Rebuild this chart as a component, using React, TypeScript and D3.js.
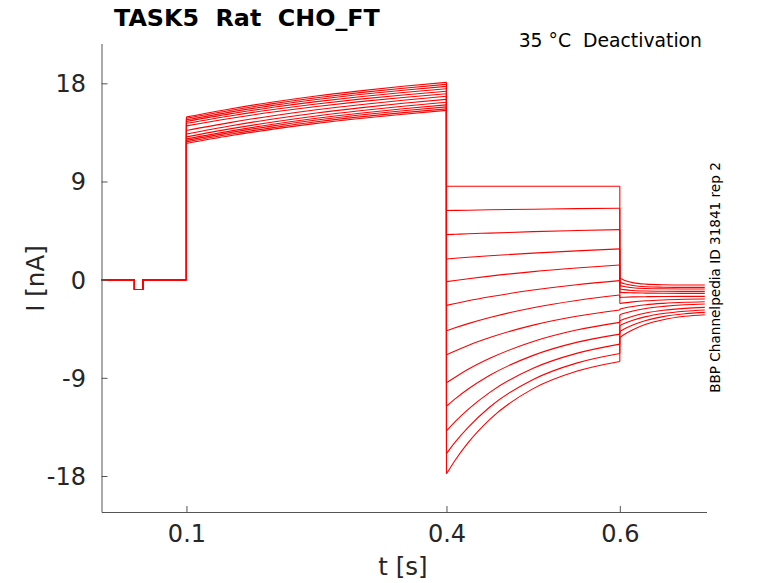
import { useRef, useEffect } from 'react';
import * as d3 from 'd3';

// pre-pulse baseline (same for every sweep)
const baseTimes = [0.002, 0.04, 0.04, 0.05, 0.05, 0.1];
const baseValues = [0, 0, -0.9, -0.9, 0, 0];

// activation step 0.1 - 0.4 s
const actTimes = [0.1, 0.15, 0.2, 0.25, 0.3, 0.35, 0.4];
const actValues = [
  [14.92, 15.65, 16.29, 16.84, 17.31, 17.73, 18.09],
  [14.79, 15.51, 16.14, 16.68, 17.15, 17.55, 17.91],
  [14.65, 15.36, 15.98, 16.51, 16.97, 17.37, 17.72],
  [14.51, 15.2, 15.8, 16.32, 16.77, 17.16, 17.5],
  [14.33, 15.01, 15.6, 16.11, 16.55, 16.93, 17.27],
  [14.1, 14.78, 15.37, 15.88, 16.32, 16.7, 17.04],
  [13.68, 14.4, 15.03, 15.58, 16.04, 16.45, 16.81],
  [13.36, 14.09, 14.73, 15.28, 15.75, 16.17, 16.53],
  [13.09, 13.82, 14.46, 15.01, 15.48, 15.9, 16.26],
  [12.9, 13.62, 14.25, 14.8, 15.26, 15.67, 16.03],
  [12.77, 13.48, 14.1, 14.63, 15.09, 15.49, 15.84],
  [12.63, 13.33, 13.94, 14.47, 14.92, 15.31, 15.66],
  [12.49, 13.19, 13.8, 14.33, 14.78, 15.17, 15.52],
];

// deactivation step 0.4 - 0.6 s
const deactTimes = [0.4, 0.41, 0.425, 0.45, 0.5, 0.55, 0.6];
const deactValues = [
  [8.57, 8.57, 8.57, 8.57, 8.57, 8.57, 8.57],
  [6.34, 6.35, 6.37, 6.41, 6.46, 6.51, 6.55],
  [4.13, 4.16, 4.21, 4.27, 4.4, 4.5, 4.59],
  [1.9, 1.96, 2.05, 2.19, 2.43, 2.64, 2.82],
  [-0.18, -0.07, 0.08, 0.32, 0.74, 1.07, 1.35],
  [-2.36, -2.19, -1.94, -1.57, -0.95, -0.46, -0.09],
  [-4.68, -4.41, -4.03, -3.47, -2.57, -1.91, -1.41],
  [-6.89, -6.53, -6.03, -5.31, -4.17, -3.36, -2.78],
  [-9.46, -8.94, -8.22, -7.21, -5.67, -4.62, -3.92],
  [-11.6, -10.93, -10.03, -8.77, -6.94, -5.75, -4.99],
  [-13.87, -13.02, -11.89, -10.33, -8.12, -6.76, -5.91],
  [-15.95, -14.9, -13.54, -11.67, -9.15, -7.65, -6.77],
  [-17.8, -16.55, -14.94, -12.8, -9.99, -8.4, -7.5],
];

// tail 0.6 - 0.7 s
const tailTimes = [0.6, 0.605, 0.615, 0.63, 0.65, 0.675, 0.698];
const tailValues = [
  [0.12, -0.05, -0.27, -0.41, -0.47, -0.49, -0.49],
  [-0.25, -0.38, -0.54, -0.65, -0.69, -0.71, -0.71],
  [-0.55, -0.63, -0.74, -0.81, -0.84, -0.85, -0.85],
  [-0.85, -0.91, -0.99, -1.04, -1.06, -1.07, -1.07],
  [-1.17, -1.19, -1.21, -1.23, -1.25, -1.26, -1.26],
  [-1.63, -1.61, -1.58, -1.56, -1.54, -1.53, -1.53],
  [-2.18, -2.13, -2.04, -1.94, -1.86, -1.8, -1.77],
  [-2.69, -2.6, -2.46, -2.3, -2.17, -2.07, -2.02],
  [-3.21, -3.08, -2.87, -2.64, -2.45, -2.3, -2.23],
  [-3.77, -3.61, -3.35, -3.06, -2.81, -2.63, -2.54],
  [-4.22, -4.03, -3.73, -3.39, -3.1, -2.89, -2.78],
  [-4.75, -4.52, -4.15, -3.74, -3.39, -3.13, -3.0],
  [-5.3, -5.03, -4.59, -4.09, -3.67, -3.36, -3.21],
];

const xTicks = [0.1, 0.4, 0.6];
const yTicks = [-18, -9, 0, 9, 18];

const FONT = '"DejaVu Sans", Verdana, sans-serif';
const TEXT = '#262626';

export default function App() {
  const ref = useRef<SVGSVGElement>(null);

  useEffect(() => {
    if (!ref.current) return;

    const width = 778;
    const height = 583;
    const left = 101.5;
    const right = 706.5;
    const top = 43.5;
    const bottom = 512;

    d3.select(ref.current).selectAll('*').remove();

    const svg = d3
      .select(ref.current)
      .attr('width', width)
      .attr('height', height);

    const x = d3.scaleLinear().domain([0.002, 0.7]).range([left, right]);
    const y = d3.scaleLinear().domain([-21.3, 21.65]).range([bottom, top]);

    const pair = (ts: number[], vs: number[]) =>
      ts.map((t, i) => [t, vs[i]] as [number, number]);

    const smooth = d3
      .line<[number, number]>()
      .x((d) => x(d[0]))
      .y((d) => y(d[1]))
      .curve(d3.curveMonotoneX);

    const straight = d3
      .line<[number, number]>()
      .x((d) => x(d[0]))
      .y((d) => y(d[1]));

    const traces = svg
      .append('g')
      .attr('fill', 'none')
      .attr('stroke', '#ff0000')
      .attr('stroke-width', 1.1);

    actValues.forEach((act, i) => {
      const deact = deactValues[i];
      const tail = tailValues[i];
      traces.append('path').attr('d', straight(pair(baseTimes, baseValues)));
      traces.append('path').attr('d', straight([[0.1, 0], [0.1, act[0]]]));
      traces.append('path').attr('d', smooth(pair(actTimes, act)));
      traces
        .append('path')
        .attr('d', straight([[0.4, act[act.length - 1]], [0.4, deact[0]]]));
      traces.append('path').attr('d', smooth(pair(deactTimes, deact)));
      traces
        .append('path')
        .attr('d', straight([[0.6, deact[deact.length - 1]], [0.6, tail[0]]]));
      traces.append('path').attr('d', smooth(pair(tailTimes, tail)));
    });

    // axes, ticks pointing inward
    const gx = svg
      .append('g')
      .attr('transform', `translate(0,${bottom})`)
      .call(
        d3
          .axisBottom(x)
          .tickValues(xTicks)
          .tickFormat(d3.format('.1f'))
          .tickSizeInner(-6)
          .tickSizeOuter(0)
          .tickPadding(13)
      );

    const gy = svg
      .append('g')
      .attr('transform', `translate(${left},0)`)
      .call(
        d3
          .axisLeft(y)
          .tickValues(yTicks)
          .tickFormat((d) => String(d))
          .tickSizeInner(-6)
          .tickSizeOuter(0)
          .tickPadding(15.5)
      );

    [gx, gy].forEach((g) => {
      g.select('.domain').attr('stroke', '#555');
      g.selectAll('.tick line').attr('stroke', '#555');
      g.selectAll('.tick text')
        .attr('fill', TEXT)
        .attr('font-size', 24)
        .attr('font-family', FONT);
    });
    gy.selectAll('.tick text').attr('dy', '0.35em');

    svg
      .append('text')
      .attr('x', 114)
      .attr('y', 26)
      .attr('font-family', FONT)
      .attr('font-weight', 'bold')
      .attr('font-size', 23.8)
      .attr('fill', '#000')
      .style('white-space', 'pre')
      .text('TASK5  Rat  CHO_FT');

    svg
      .append('text')
      .attr('x', 702)
      .attr('y', 46.5)
      .attr('text-anchor', 'end')
      .attr('font-family', FONT)
      .attr('font-size', 18.8)
      .attr('fill', '#000')
      .style('white-space', 'pre')
      .text('35 °C  Deactivation');

    svg
      .append('text')
      .attr('x', 403)
      .attr('y', 575)
      .attr('text-anchor', 'middle')
      .attr('font-family', FONT)
      .attr('font-size', 24.5)
      .attr('fill', TEXT)
      .text('t [s]');

    svg
      .append('text')
      .attr('transform', 'translate(43.5,278.5) rotate(-90)')
      .attr('text-anchor', 'middle')
      .attr('font-family', FONT)
      .attr('font-size', 24.5)
      .attr('fill', TEXT)
      .text('I [nA]');

    svg
      .append('text')
      .attr('transform', 'translate(720,277.5) rotate(-90)')
      .attr('text-anchor', 'middle')
      .attr('font-family', FONT)
      .attr('font-size', 13.6)
      .attr('fill', '#000')
      .text('BBP Channelpedia ID 31841 rep 2');
  }, []);

  return (
    <svg
      ref={ref}
      style={{ position: 'absolute', left: 0, top: 0, background: '#fff' }}
    ></svg>
  );
}
